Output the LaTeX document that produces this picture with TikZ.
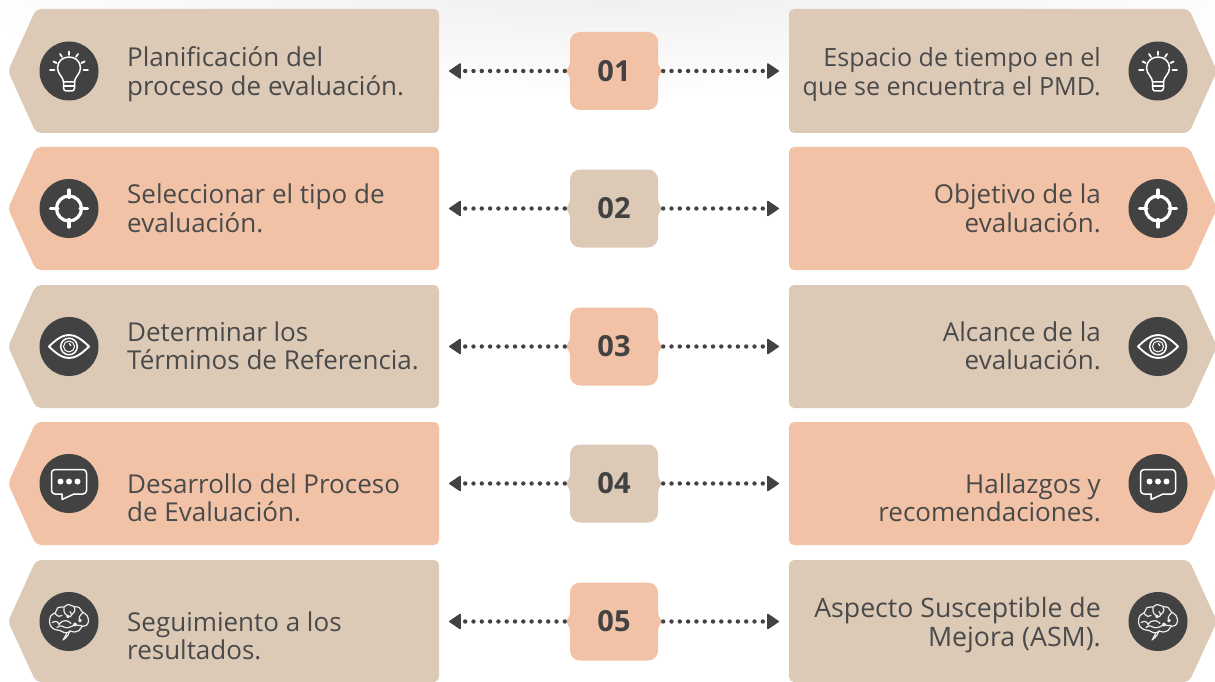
\documentclass[tikz,border=0pt]{standalone}
\usepackage{fontspec}
\setmainfont{Open Sans}
\newfontfamily\numfont{Open Sans}
\usetikzlibrary{arrows.meta,calc}
\definecolor{tan}{HTML}{DCCAB7}
\definecolor{peach}{HTML}{F1C2A5}
\definecolor{ink}{HTML}{424242}
\definecolor{txt}{HTML}{4A4A4A}
\tikzset{
  x=1pt,y=-1pt,
  panelfill/.style={fill=#1,rounded corners=5pt},
  lefttext/.style={anchor=west,align=left,inner sep=0pt,text=txt,font=\fontsize{26}{28.5}\selectfont},
  righttext/.style={anchor=east,align=right,inner sep=0pt,text=txt,font=\fontsize{26}{28.5}\selectfont},
  numbox/.style={fill=#1,rounded corners=10pt,minimum width=88pt,minimum height=78pt,inner sep=0pt,text=ink,font=\numfont\bfseries\fontsize{29}{32}\selectfont},
  linker/.style={draw=ink,line width=4.4pt,line cap=round,dash pattern=on 0pt off 8.3pt,
    -{Triangle[length=12.5pt,width=16.5pt,round,line width=1.4pt]},shorten <=5pt},
  iconline/.style={draw=white,line width=1.5pt,line cap=round,line join=round},
  bulb/.pic={
    \fill[ink] (0,0) circle[radius=29.5pt];
    \draw[iconline] (-5.5,11) .. controls (-5.5,6) and (-11.5,3) .. (-11.5,-3) .. controls (-11.5,-10) and (-6,-14) .. (0,-14)
       .. controls (6,-14) and (11.5,-10) .. (11.5,-3) .. controls (11.5,3) and (5.5,6) .. (5.5,11) -- cycle;
    \draw[iconline] (-5.5,11) -- (-5.5,17) .. controls (-5.5,19) and (-4,20) .. (-3,20) -- (3,20) .. controls (4,20) and (5.5,19) .. (5.5,17) -- (5.5,11);
    \draw[iconline] (-5.5,15) -- (5.5,15);
    \draw[iconline,line width=1.8pt] (-19,-1) -- (-14.5,-1) (19,-1) -- (14.5,-1) (-15.5,-9.5) -- (-12.5,-8) (15.5,-9.5) -- (12.5,-8)
       (-9,-17) -- (-7,-14) (9,-17) -- (7,-14) (0,-19.5) -- (0,-16);
  },
  target/.pic={
    \fill[ink] (0,0) circle[radius=29.5pt];
    \draw[white,line width=3.2pt] (0,0) circle[radius=12.5pt];
    \draw[white,line width=3.2pt,line cap=round] (-18.5,0) -- (-11,0) (18.5,0) -- (11,0) (0,-18.5) -- (0,-11) (0,18.5) -- (0,11);
  },
  eye/.pic={
    \fill[ink] (0,0) circle[radius=29.5pt];
    \draw[iconline,line width=1.9pt] (-20,0) .. controls (-12,-8) and (-6,-11.5) .. (0,-11.5) .. controls (6,-11.5) and (12,-8) .. (20,0)
      .. controls (12,8) and (6,11.5) .. (0,11.5) .. controls (-6,11.5) and (-12,8) .. (-20,0) -- cycle;
    \draw[iconline] (0,0) circle[radius=8.3pt];
    \draw[iconline,line width=1pt] (0,0) circle[radius=5.5pt];
    \draw[iconline,line width=1.2pt] (0.3,-3) -- (1.8,-0.8);
  },
  speech/.pic={
    \fill[ink] (0,0) circle[radius=29.5pt];
    \draw[iconline,rounded corners=3.5pt] (-7,10.5) -- (-17.5,10.5) -- (-17.5,-14) -- (17.5,-14) -- (17.5,10.5) -- (5,10.5);
    \draw[iconline] (-7,10.5) -- (-7,16) -- (5,10.5);
    \fill[white] (-8.5,-2) circle[radius=3pt] (0,-2) circle[radius=3pt] (8.5,-2) circle[radius=3pt];
  },
  brain/.pic={
    \fill[ink] (0,0) circle[radius=29.5pt];
    \draw[draw=white!90!ink,line width=1.2pt,line cap=round,line join=round] plot[smooth cycle,tension=.6] coordinates {
      (-19.5,0) (-18,-6) (-13.5,-9) (-11,-14) (-5,-14.5) (-1,-17) (5,-15) (10,-14) (13,-10) (18,-6) (19.5,0) (17,4) (13,5) (10,9) (5,10.5) (1,9.5) (-1,11) (-5,11) (-9,9) (-14,8) (-18,5)};
    \draw[draw=white!90!ink,line width=1.2pt,line cap=round,line join=round]
      (-2,11) .. controls (-3,13) and (-4,16) .. (-6,18.5)
      (1,9.5) .. controls (0,12) and (-1,15) .. (-6,18.5)
      (-14,-8) .. controls (-11,-5) and (-9,-4) .. (-7,-6)
      (-5,-14) .. controls (-6,-9) and (-3,-6) .. (0,-5) .. controls (3,-4) and (3,-8) .. (1,-10)
      (5,-15) .. controls (7,-11) and (5,-8) .. (3,-7)
      (14,-9) .. controls (11,-6) and (9,-4) .. (11,-1) circle[radius=1.3pt]
      (-17,1) .. controls (-13,-1) and (-11,0) .. (-10,3) .. controls (-6,-3) and (0,-1) .. (2,2)
      (-12,6) .. controls (-9,3) and (-6,5) .. (-4,6) .. controls (-1,7) and (3,5) .. (6,3) circle[radius=1.5pt]
      (13,4) .. controls (10,3) and (8,5) .. (6,3)
      (-1,-5) circle[radius=1.3pt];
  },
}
\begin{document}
\begin{tikzpicture}
\useasboundingbox (0,0) rectangle (1215,682);
\begin{scope}
  \clip (0,0) rectangle (1215,682);
  \shade[inner color=black!7,outer color=white] (615,-22) ellipse [x radius=700pt,y radius=120pt];
\end{scope}
\foreach \i/\top/\hgt/\pcol/\ncol/\yc in {1/9/124/tan/peach/71,2/147/123/peach/tan/208.5,3/285/123/tan/peach/346.5,4/422/123/peach/tan/483.5,5/560/122/tan/peach/621.5}{
  % left and right panels
  \path[panelfill=\pcol] (439,\top) -- (36,\top) -- (8,\yc) -- (36,\top+\hgt) -- (439,\top+\hgt) -- cycle;
  \path[panelfill=\pcol] (789,\top) -- (1189,\top) -- (1217,\yc) -- (1189,\top+\hgt) -- (789,\top+\hgt) -- cycle;
  % number box with brace points
  \node[numbox=\ncol] (n\i) at (614,\yc) {0\i};
  \fill[\ncol] ($(n\i.west)+(0.5,-11)$) .. controls ($(n\i.west)+(0,-4)$) and ($(n\i.west)+(-3,-1)$) .. ($(n\i.west)+(-5,0)$)
     .. controls ($(n\i.west)+(-3,1)$) and ($(n\i.west)+(0,4)$) .. ($(n\i.west)+(0.5,11)$) -- cycle;
  \fill[\ncol] ($(n\i.east)+(-0.5,-11)$) .. controls ($(n\i.east)+(0,-4)$) and ($(n\i.east)+(3,-1)$) .. ($(n\i.east)+(5,0)$)
     .. controls ($(n\i.east)+(3,1)$) and ($(n\i.east)+(0,4)$) .. ($(n\i.east)+(-0.5,11)$) -- cycle;
  \coordinate (al\i) at (449,\yc);
  \coordinate (ar\i) at (779,\yc);
  \draw[linker] (n\i.west) -- (al\i);
  \draw[linker] (n\i.east) -- (ar\i);
}
\pic at (69,71) {bulb};     \pic at (1158,71) {bulb};
\pic at (69,208.5) {target};\pic at (1158,208.5) {target};
\pic at (69,346.5) {eye};   \pic at (1158,346.5) {eye};
\pic at (69,483.5) {speech};\pic at (1158,483.5) {speech};
\pic at (69,621.5) {brain}; \pic at (1158,621.5) {brain};
\node[lefttext] (l1) at (127,75.5) {\strut Planificación del\\\strut proceso de evaluación.};
\node[lefttext] (l2) at (127,212.5) {\strut Seleccionar el tipo de\\\strut evaluación.};
\node[lefttext] (l3) at (127,350) {\strut Determinar los\\\strut Términos de Referencia.};
\node[lefttext] (l4) at (127,502) {\strut Desarrollo del Proceso\\\strut de Evaluación.};
\node[lefttext] (l5) at (127,640) {\strut Seguimiento a los\\\strut resultados.};
\node[righttext,font=\fontsize{25.1}{28.5}\selectfont] (r1) at (1101,75.5) {\strut Espacio de tiempo en el\\\strut que se encuentra el PMD.};
\node[righttext] (r2) at (1101,212.5) {\strut Objetivo de la\\\strut evaluación.};
\node[righttext] (r3) at (1101,350) {\strut Alcance de la\\\strut evaluación.};
\node[righttext] (r4) at (1101,502) {\strut Hallazgos y\\\strut recomendaciones.};
\node[righttext,font=\fontsize{26.7}{28.5}\selectfont] (r5) at (1101,626) {\strut Aspecto Susceptible de\\\strut Mejora (ASM).};
\end{tikzpicture}
\end{document}
